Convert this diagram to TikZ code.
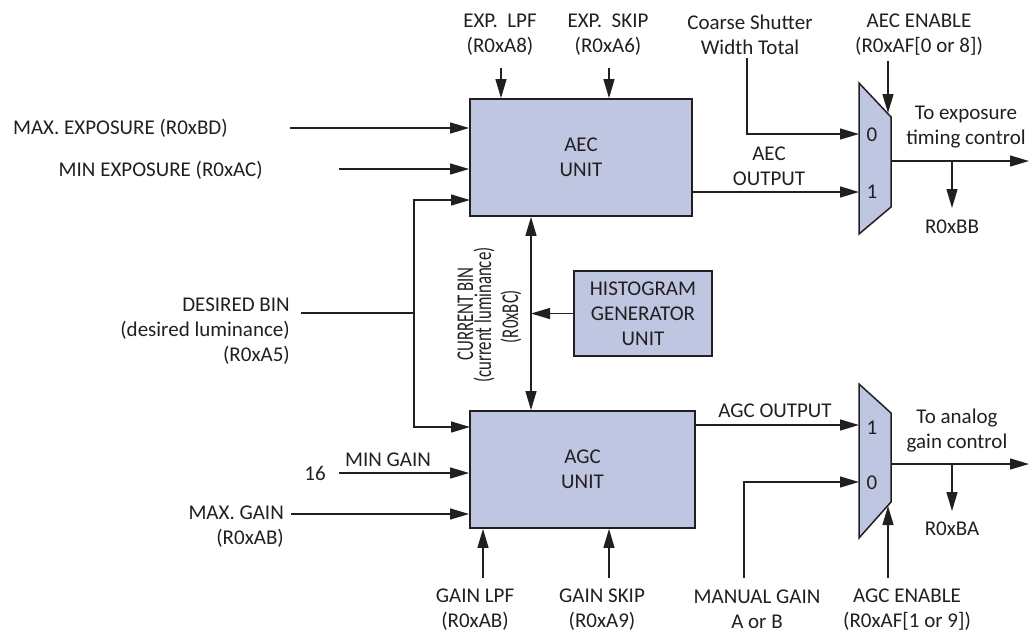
\documentclass[tikz,border=0pt]{standalone}
\usepackage{fontspec}
\setmainfont{Carlito}
\usetikzlibrary{arrows.meta}
\definecolor{boxfill}{RGB}{190,198,225}
\definecolor{ink}{RGB}{35,31,32}
\begin{document}
\begin{tikzpicture}[x=1pt,y=-1pt,
  font=\fontsize{21}{25}\selectfont,
  ln/.style={draw=ink, line width=1.3pt},
  arr/.style={ln, -{Triangle[length=19pt,width=11pt]}},
  dbl/.style={ln, {Triangle[length=19pt,width=11pt]}-{Triangle[length=19pt,width=11pt]}},
  unit/.style={draw=ink, line width=1.8pt, fill=boxfill, align=center, inner sep=0pt, text=ink},
  lbl/.style={text=ink, inner sep=0pt, align=center},
  rot/.style={lbl, rotate=90, anchor=base, font=\fontsize{24}{25}\selectfont}]
\useasboundingbox (0,0) rectangle (1029,633);

% units
\node[unit, minimum width=222pt, minimum height=117pt] (aec) at (581,157.5) {AEC\\UNIT};
\node[unit, minimum width=225pt, minimum height=117pt] (agc) at (582.5,469.5) {AGC\\UNIT};
\node[unit, minimum width=138pt, minimum height=85pt] (hist) at (643,313.5) {HISTOGRAM\\GENERATOR\\UNIT};

% muxes
\draw[draw=ink, line width=1.5pt, fill=boxfill] (859,83) -- (891,117) -- (891,207) -- (859,234) -- cycle;
\draw[draw=ink, line width=1.5pt, fill=boxfill] (859,384) -- (891,413) -- (891,502) -- (859,538) -- cycle;
\coordinate (m1in0) at (859,134);
\coordinate (m1in1) at (859,192);
\coordinate (m1out) at (891,161);
\coordinate (m1sel) at (888,113);
\coordinate (m2in1) at (859,425);
\coordinate (m2in0) at (859,482);
\coordinate (m2out) at (891,464);
\coordinate (m2sel) at (888,506);
\node[lbl, anchor=base] (d10) at (872,141) {0};
\node[lbl, anchor=base] (d11) at (872,198) {1};
\node[lbl, anchor=base] (d21) at (872,434) {1};
\node[lbl, anchor=base] (d20) at (872,489) {0};

% top labels
\node[lbl] (elpf) at (500,34.5) {EXP.\ \ LPF\\(R0xA8)};
\node[lbl] (eskip) at (608,34.5) {EXP.\ \ SKIP\\(R0xA6)};
\node[lbl] (cst) at (750,34.5) {Coarse Shutter\\Width Total};
\node[lbl] (aecen) at (919,34.5) {AEC ENABLE\\(R0xAF[0 or 8])};
\coordinate (elpfs) at (501,68);
\coordinate (eskips) at (609,68);
\coordinate (csts) at (747,58);
\coordinate (aecens) at (888,61);
\draw[arr] (elpfs) -- (elpfs |- aec.north);
\draw[arr] (eskips) -- (eskips |- aec.north);
\draw[arr] (csts) |- (m1in0);
\draw[arr] (aecens) -- (m1sel);

% AEC output and mux out
\node[lbl] (aecout) at (769,166) {AEC\\OUTPUT};
\draw[arr] (aec.east |- m1in1) -- (m1in1);
\coordinate (m1end) at (1029,161);
\draw[arr] (m1out) -- (m1end);
\node[lbl] (toexp) at (966,127) {To exposure\\timing control};
\coordinate (b1) at (952,161);
\coordinate (b1e) at (952,208);
\draw[arr] (b1) -- (b1e);
\node[lbl] (rbb) at (952,227) {R0xBB};

% AGC output and mux out
\node[lbl, anchor=base] (agcout) at (775,417) {AGC OUTPUT};
\draw[arr] (agc.east |- m2in1) -- (m2in1);
\coordinate (m2end) at (1029,464);
\draw[arr] (m2out) -- (m2end);
\node[lbl] (toana) at (957,431) {To analog\\gain control};
\coordinate (b2) at (952,464);
\coordinate (b2e) at (952,511);
\draw[arr] (b2) -- (b2e);
\node[lbl] (rba) at (952,529) {R0xBA};

% current bin
\coordinate (cb) at (531,0);
\draw[dbl] (aec.south -| cb) -- (agc.north -| cb);
\draw[arr] (hist.west) -- (hist.west -| cb);
\node[rot] (cb1) at (473,314) {\scalebox{0.70}[1]{CURRENT BIN}};
\node[rot] (cb2) at (491,315) {\scalebox{0.70}[1]{(current luminance)}};
\node[rot] (cb3) at (518,316.5) {\scalebox{0.70}[1]{(R0xBC)}};

% left inputs
\node[lbl, anchor=base east] (maxexp) at (228,134) {MAX. EXPOSURE (R0xBD)};
\coordinate (maxexps) at (290,128);
\draw[arr] (maxexps) -- (maxexps -| aec.west);
\node[lbl, anchor=base east] (minexp) at (263,176) {MIN EXPOSURE (R0xAC)};
\coordinate (minexps) at (339,169);
\draw[arr] (minexps) -- (minexps -| aec.west);

\node[lbl, align=right, anchor=east] (db) at (290,331) {DESIRED BIN\\(desired luminance)\\(R0xA5)};
\coordinate (dbs) at (301,313);
\coordinate (dbj) at (414,313);
\coordinate (aecin3) at (470,200);
\coordinate (agcin1) at (470,427);
\draw[ln] (dbs) -- (dbj);
\draw[arr] (dbj) |- (aecin3);
\draw[arr] (dbj) |- (agcin1);

\node[lbl, anchor=base] (sixteen) at (315,480) {16};
\node[lbl, anchor=base] (mingain) at (388,466) {MIN GAIN};
\coordinate (mings) at (339,473);
\draw[arr] (mings) -- (mings -| agc.west);
\node[lbl, align=right, anchor=east] (maxg) at (284,526.5) {MAX. GAIN\\(R0xAB)};
\coordinate (maxgs) at (291,514);
\draw[arr] (maxgs) -- (maxgs -| agc.west);

% bottom labels
\node[lbl] (glpf) at (475,609.5) {GAIN LPF\\(R0xAB)};
\node[lbl] (gskip) at (602,609.5) {GAIN SKIP\\(R0xA9)};
\node[lbl] (mang) at (757,609.5) {MANUAL GAIN\\A or B};
\node[lbl] (agcen) at (907,609.5) {AGC ENABLE\\(R0xAF[1 or 9])};
\coordinate (glpfs) at (483,578);
\coordinate (gskips) at (609,578);
\coordinate (mangs) at (744,578);
\coordinate (agcens) at (888,578);
\draw[arr] (glpfs) -- (glpfs |- agc.south);
\draw[arr] (gskips) -- (gskips |- agc.south);
\draw[arr] (mangs) |- (m2in0);
\draw[arr] (agcens) -- (m2sel);
\end{tikzpicture}
\end{document}
